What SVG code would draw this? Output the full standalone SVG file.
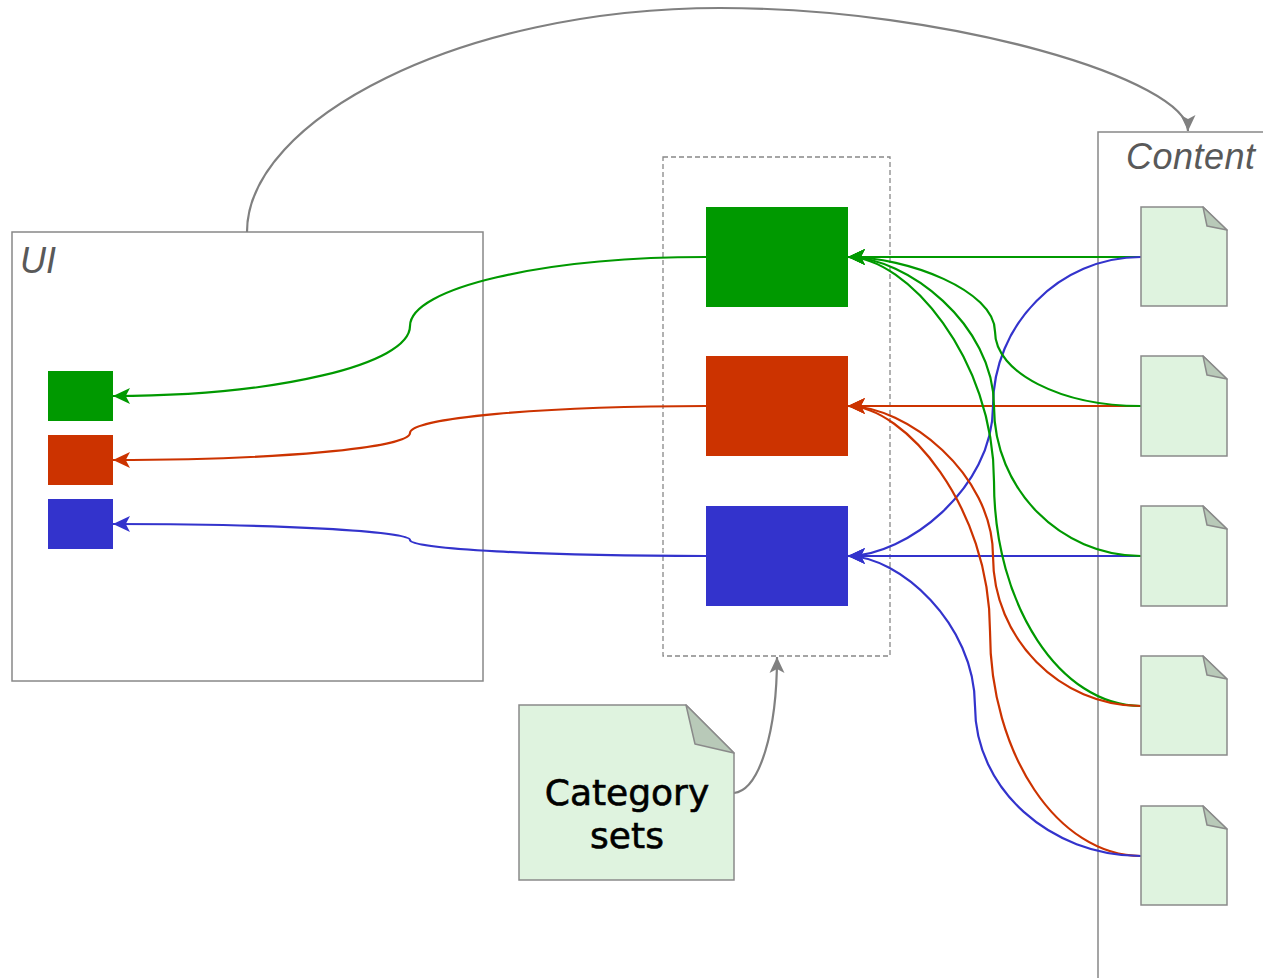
<svg xmlns="http://www.w3.org/2000/svg" width="1263" height="978" viewBox="0 0 1263 978">
<style>
.cont{fill:none;stroke:#888;stroke-width:1.5}
.dash{fill:none;stroke:#888;stroke-width:1.3;stroke-dasharray:5 3}
.lbl{font-family:"Liberation Sans",Arial,sans-serif;font-style:italic;font-size:36px;fill:#595959}
.doc{fill:#dff3df;stroke:#8a8a8a;stroke-width:1.5}
.fold{fill:#b8c9b8;stroke:#8a8a8a;stroke-width:1.5;stroke-linejoin:round}
.g{fill:#009900}.r{fill:#cc3300}.b{fill:#3333cc}
.cg{fill:none;stroke:#009900;stroke-width:2.2}
.cr{fill:none;stroke:#cc3300;stroke-width:2.2}
.cb{fill:none;stroke:#3333cc;stroke-width:2.2}
.cy{fill:none;stroke:#808080;stroke-width:2.2}
.txt{font-family:"DejaVu Sans",Verdana,sans-serif;font-size:36px;fill:#000;stroke:#000;stroke-width:0.6;text-anchor:middle}
</style>
<defs>
<marker id="aG" viewBox="0 0 16 16" refX="16" refY="8" markerWidth="17" markerHeight="17" markerUnits="userSpaceOnUse" orient="auto"><path d="M16,8 L0,0.5 L4,8 L0,15.5 z" fill="#009900"/></marker>
<marker id="aR" viewBox="0 0 16 16" refX="16" refY="8" markerWidth="17" markerHeight="17" markerUnits="userSpaceOnUse" orient="auto"><path d="M16,8 L0,0.5 L4,8 L0,15.5 z" fill="#cc3300"/></marker>
<marker id="aB" viewBox="0 0 16 16" refX="16" refY="8" markerWidth="17" markerHeight="17" markerUnits="userSpaceOnUse" orient="auto"><path d="M16,8 L0,0.5 L4,8 L0,15.5 z" fill="#3333cc"/></marker>
<marker id="aY" viewBox="0 0 16 16" refX="16" refY="8" markerWidth="16" markerHeight="16" markerUnits="userSpaceOnUse" orient="auto"><path d="M16,8 L0,0.5 L4,8 L0,15.5 z" fill="#808080"/></marker>
</defs>
<rect width="1263" height="978" fill="#fff"/>

<g id="ui">
<rect class="cont" x="12" y="232" width="471" height="449"/>
<text class="lbl" x="20" y="273">UI</text>
</g>
<g id="content">
<rect class="cont" x="1098" y="132" width="200" height="900"/>
<text class="lbl" x="1126" y="169" textLength="129">Content</text>
</g>
<g id="category-group">
<rect class="dash" x="663" y="157" width="227" height="499"/>
</g>

<g id="connectors">
<path class="cy" d="M247,232 C247,120 460,8 720,8 C950,8 1188,80 1188,131" marker-end="url(#aY)"/>
<path class="cy" d="M734,793 C760,790 777,730 777,657" marker-end="url(#aY)"/>

<path class="cg" d="M706,257 C543,257 410,288 410,326 C410,364.5 276,396 113,396" marker-end="url(#aG)"/>
<path class="cr" d="M706,406 C543,406 410,418 410,433 C410,448 276,460 113,460" marker-end="url(#aR)"/>
<path class="cb" d="M706,556 C543,556 410,549 410,540 C410,531 276,524 113,524" marker-end="url(#aB)"/>

<path class="cg" d="M1141,257 L848,257" marker-end="url(#aG)"/>
<path class="cr" d="M1141,406 L848,406" marker-end="url(#aR)"/>
<path class="cb" d="M1141,556 L848,556" marker-end="url(#aB)"/>

<path class="cb" d="M1141,257 C1059.6,257 993,324.3 993,406.5 C993,488.7 906,556 848,556" marker-end="url(#aB)"/>
<path class="cg" d="M1141,406 C1060.7,406 995,372.5 995,331.5 C995,290.5 906.8,257 848,257" marker-end="url(#aG)"/>
<path class="cg" d="M1141,556 C1060.2,556 994,488.7 994,406.5 C994,324.3 906.4,257 848,257" marker-end="url(#aG)"/>
<path class="cg" d="M1141,706 C1060.2,706 994,605 994,481.5 C994,358 906.4,257 848,257" marker-end="url(#aG)"/>
<path class="cr" d="M1141,706 C1059.6,706 993,638.5 993,556 C993,473.5 906,406 848,406" marker-end="url(#aR)"/>
<path class="cr" d="M1141,856 C1058,856 990,754.3 990,631 C990,507.3 904.8,406 848,406" marker-end="url(#aR)"/>
<path class="cb" d="M1141,856 C1049.7,856 975,788.5 975,706 C975,623.5 898.8,556 848,556" marker-end="url(#aB)"/>
</g>

<g id="cat-green"><rect class="g" x="706" y="207" width="142" height="100"/></g>
<g id="cat-red"><rect class="r" x="706" y="356" width="142" height="100"/></g>
<g id="cat-blue"><rect class="b" x="706" y="506" width="142" height="100"/></g>

<g id="ui-green"><rect class="g" x="48" y="371" width="65" height="50"/></g>
<g id="ui-red"><rect class="r" x="48" y="435" width="65" height="50"/></g>
<g id="ui-blue"><rect class="b" x="48" y="499" width="65" height="50"/></g>

<g id="doc1"><path class="doc" d="M1141,207 L1203,207 L1227,230 L1227,306 L1141,306 Z"/><path class="fold" d="M1203,207 L1207,226 L1227,230 Z"/></g>
<g id="doc2"><path class="doc" d="M1141,356 L1203,356 L1227,379 L1227,456 L1141,456 Z"/><path class="fold" d="M1203,356 L1207,375 L1227,379 Z"/></g>
<g id="doc3"><path class="doc" d="M1141,506 L1203,506 L1227,529 L1227,606 L1141,606 Z"/><path class="fold" d="M1203,506 L1207,525 L1227,529 Z"/></g>
<g id="doc4"><path class="doc" d="M1141,656 L1203,656 L1227,679 L1227,755 L1141,755 Z"/><path class="fold" d="M1203,656 L1207,675 L1227,679 Z"/></g>
<g id="doc5"><path class="doc" d="M1141,806 L1203,806 L1227,829 L1227,905 L1141,905 Z"/><path class="fold" d="M1203,806 L1207,825 L1227,829 Z"/></g>

<g id="category-sets">
<path class="doc" d="M519,705 L686,705 L734,753 L734,880 L519,880 Z"/>
<path class="fold" d="M686,705 L695,744 L734,753 Z"/>
<text class="txt" x="627" y="805">Category</text>
<text class="txt" x="627" y="848">sets</text>
</g>
</svg>
